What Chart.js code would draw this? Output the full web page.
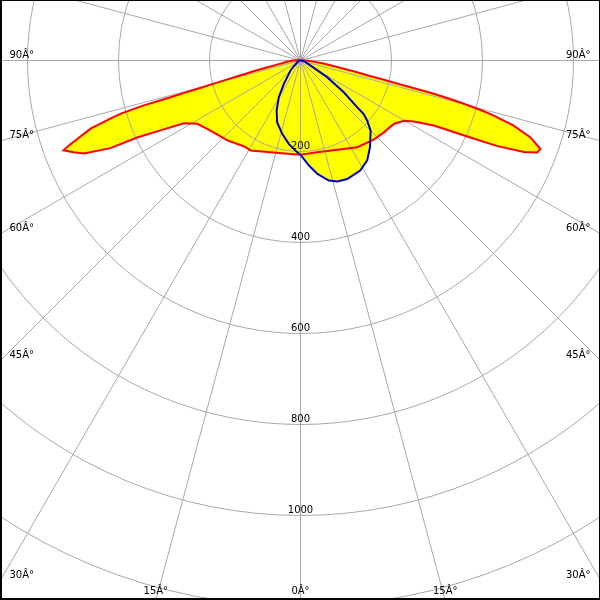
<!DOCTYPE html>
<html>
<head>
<meta charset="utf-8">
<script src="https://cdn.jsdelivr.net/npm/chart.js@4/dist/chart.umd.min.js"></script>
<style>
html,body{margin:0;padding:0;background:#fff;}
#wrap{position:relative;width:600px;height:600px;overflow:hidden;background:#fff;}
#c{position:absolute;left:-337px;top:-577px;}
#frame{position:absolute;left:0;top:0;width:600px;height:600px;box-sizing:border-box;border-style:solid;border-color:#000;border-width:1px 1px 2px 2px;pointer-events:none;}
</style>
</head>
<body>
<div id="wrap"><canvas id="c" width="1274" height="1274"></canvas><div id="frame"></div></div>
<script>
// ---- data (gamma angle in degrees from nadir, luminous intensity) ----
const redLeftAngles  = [0, 8, 18, 29, 33.5, 42.5, 48.5, 53.75, 58.5, 61.75, 63.5, 64.75, 65.25, 66.75, 68, 69.25, 70, 72, 73, 73.5, 74, 74.25, 74.5, 74.75, 75, 75.5, 76, 76.5, 77, 78, 80, 82.5, 85, 87.5, 90, 92.5, 95, 180];
const redLeftValues  = [207, 207, 212, 226, 226, 238, 245, 254, 266, 291, 344, 397, 460, 518, 538, 557, 538, 485, 437, 413, 360, 297, 256, 225, 201, 166, 141, 122, 108, 80, 52, 37, 27, 22, 18, 8, 0, 0];

const redRightAngles = [0, 10.25, 22.25, 33.25, 42.75, 49.25, 55.75, 59.75, 61.75, 64, 65.5, 66.5, 67.75, 68.75, 69.75, 71.5, 73, 74.25, 74.75, 75.25, 75.5, 76, 76.25, 76.5, 77, 77.5, 78, 78.75, 80, 82.5, 85, 87.5, 90, 92.5, 180];
const redRightValues = [207, 205, 212, 228, 237, 242, 248, 263, 283, 326, 403, 472, 531, 558, 562, 533, 490, 434, 403, 365, 345, 300, 257, 226, 184, 154, 133, 112, 80, 48, 28, 17, 8, 0, 0];

const blueLeftAngles  = [0, 2, 8, 14, 20.75, 25.5, 30.5, 35.5, 45, 50, 60, 90, 95, 180];
const blueLeftValues  = [207, 202, 185, 166, 145, 122, 94, 63, 31, 17, 8, 3, 0, 0];

const blueRightAngles = [0, 4.5, 8.5, 13.25, 17, 21.5, 28.5, 33.75, 38.75, 45, 48, 49.75, 50.5, 53.75, 58, 63.5, 75, 90, 95, 180];
const blueRightValues = [207, 231, 252, 271, 278, 280, 275, 264, 244, 218, 197, 182, 161, 118, 69, 25, 10, 4, 0, 0];

const radialTickValues = [200, 400, 600, 800, 1000];
const radialTickLabels = ['200', '400', '600', '800', '1000'];
const angleTickAngles  = [0, 15, 30, 45, 60, 75, 90];
const angleTickLabels  = ['0Â°', '15Â°', '30Â°', '45Â°', '60Â°', '75Â°', '90Â°'];

// ---- setup ----
const STEP = 0.25;            // angular resolution of the radar categories
const N = Math.round(360 / STEP);
const CX = 300, CY = 60;      // page position of the diagram centre
const GRID = '#a8a8a8';
const FONT = '10px "DejaVu Sans"';

const angleLabels = Array.from({length: N}, (_, i) => String(i * STEP));

function buildSeries(la, lv, ra, rv) {
  const arr = new Array(N).fill(null);
  la.forEach((a, k) => { arr[Math.round(a / STEP) % N] = lv[k]; });
  ra.forEach((a, k) => { arr[(N - Math.round(a / STEP)) % N] = rv[k]; });
  return arr;
}
const redData  = buildSeries(redLeftAngles, redLeftValues, redRightAngles, redRightValues);
const blueData = buildSeries(blueLeftAngles, blueLeftValues, blueRightAngles, blueRightValues);

const pixelAlign = {
  id: 'pixelAlign',
  beforeRender(chart) { chart.ctx.save(); chart.ctx.translate(0.5, 0.5); },
  afterRender(chart) { chart.ctx.restore(); }
};

const labelPlugin = {
  id: 'polarLabels',
  afterDraw(chart) {
    const s = chart.scales.r, ctx = chart.ctx;
    const ox = s.xCenter - CX, oy = s.yCenter - CY;
    ctx.save();
    ctx.font = FONT;
    ctx.fillStyle = '#000';
    ctx.textBaseline = 'alphabetic';
    radialTickValues.forEach((v, k) => {
      const p = s.getPointPositionForValue(0, v);
      ctx.textAlign = 'center';
      ctx.fillText(radialTickLabels[k], p.x, p.y - 2.5);
    });
    angleTickAngles.forEach((a, k) => {
      const idxs = a === 0 ? [0] : [Math.round(a / STEP) % N, (N - Math.round(a / STEP)) % N];
      idxs.forEach(idx => {
        const q = s.getPointPosition(idx, 1);
        const dx = q.x - s.xCenter, dy = q.y - s.yCenter;
        let t = Infinity;
        if (dx < -1e-9) t = Math.min(t, (0 - CX) / dx);
        if (dx > 1e-9) t = Math.min(t, (600 - CX) / dx);
        if (dy > 1e-9) t = Math.min(t, (600 - CY) / dy);
        if (dy < -1e-9) t = Math.min(t, (0 - CY) / dy);
        const ex = CX + t * dx, ey = CY + t * dy;
        let x, y;
        if (Math.abs(ey - 600) < 0.5) { ctx.textAlign = 'center'; x = ex; y = 593; }
        else if (ex < 1) { ctx.textAlign = 'left'; x = 9; y = ey - 2.5; }
        else { ctx.textAlign = 'right'; x = 590; y = ey - 2.5; }
        ctx.fillText(angleTickLabels[k], x + ox, y + oy);
      });
    });
    ctx.restore();
  }
};

new Chart(document.getElementById('c').getContext('2d'), {
  type: 'radar',
  data: {
    labels: angleLabels,
    datasets: [
      { label: 'C90-C270', data: blueData, borderColor: '#0000cc', borderWidth: 2,
        backgroundColor: '#ffff00', fill: 'origin', spanGaps: true, pointRadius: 0, pointHoverRadius: 0, tension: 0 },
      { label: 'C0-C180', data: redData, borderColor: '#ff0000', borderWidth: 2,
        backgroundColor: '#ffff00', fill: 'origin', spanGaps: true, pointRadius: 0, pointHoverRadius: 0, tension: 0 }
    ]
  },
  options: {
    responsive: false,
    animation: false,
    devicePixelRatio: 1,
    events: [],
    layout: { padding: 0 },
    plugins: {
      legend: { display: false },
      tooltip: { enabled: false },
      filler: { drawTime: 'beforeDraw', propagate: false }
    },
    scales: {
      r: {
        min: 0, max: 1400,
        startAngle: 180,
        ticks: { display: false, stepSize: 200 },
        pointLabels: { display: false },
        grid: { circular: true, color: GRID, lineWidth: 1 },
        angleLines: { display: true, color: GRID, lineWidth: c => (c.index % Math.round(15 / STEP) === 0 ? 1 : 0) }
      }
    }
  },
  plugins: [pixelAlign, labelPlugin]
});
</script>
</body>
</html>
